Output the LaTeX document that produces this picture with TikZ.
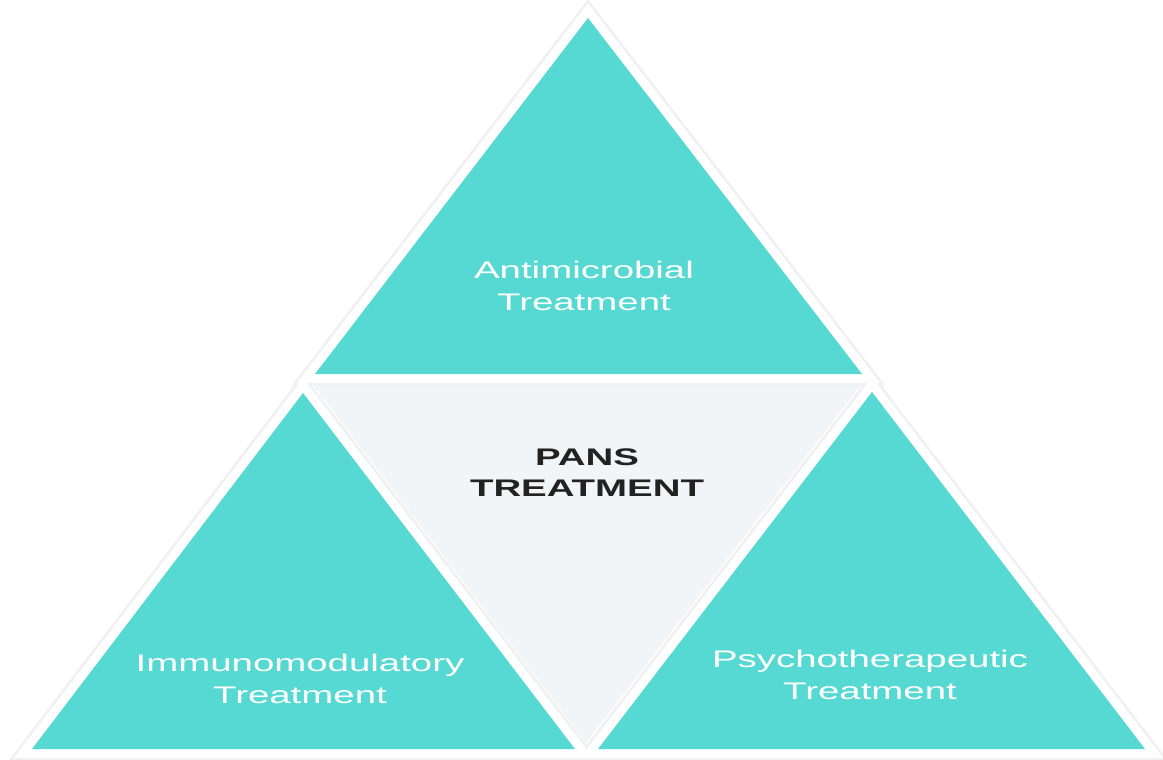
\documentclass[tikz,border=0pt]{standalone}
\usepackage{fontspec}
\newfontfamily\wf[FakeStretch=1.6]{Liberation Sans}
\definecolor{tealfill}{RGB}{86,217,210}
\definecolor{centerfill}{RGB}{242,245,247}
\definecolor{darktext}{RGB}{34,34,34}
\begin{document}
\begin{tikzpicture}[x=1pt,y=-1pt,
  shadowline/.style={draw=black!6,line width=23pt,line join=miter},
  whiteline/.style={draw=white,line width=18pt,line join=miter},
  tealtri/.style={fill=tealfill},
  centertri/.style={fill=centerfill},
  lbl/.style={text=white,align=center,inner sep=0pt,font=\wf\fontsize{24}{32}\selectfont},
  clbl/.style={text=darktext,align=center,inner sep=0pt,font=\wf\bfseries\fontsize{24}{31}\selectfont}]
\useasboundingbox[fill=white] (0,0) rectangle (1163,760);
% corners
\coordinate (t1) at (588,18);
\coordinate (t2) at (315,374);
\coordinate (t3) at (862,374);
\coordinate (l1) at (303,393);
\coordinate (l2) at (32,749);
\coordinate (l3) at (575,749);
\coordinate (r1) at (872,392);
\coordinate (r2) at (598,749);
\coordinate (r3) at (1145,749);
\coordinate (c1) at (313,385);
\coordinate (c2) at (861,385);
\coordinate (c3) at (586,743);
\coordinate (g1) at (18,757.5);
\coordinate (g2) at (1163,757.5);
% ground line
\draw[black!20,line width=3pt] (g1) -- (g2);
% shadows
\foreach \a/\b/\c in {t1/t2/t3,l1/l2/l3,r1/r2/r3}
  \path[shadowline] (\a) -- (\b) -- (\c) -- cycle;
\foreach \a/\b/\c in {t1/t2/t3,l1/l2/l3,r1/r2/r3}
  \path[whiteline] (\a) -- (\b) -- (\c) -- cycle;
% triangles
\path[tealtri] (t1) -- (t2) -- (t3) -- cycle;
\path[tealtri] (l1) -- (l2) -- (l3) -- cycle;
\path[tealtri] (r1) -- (r2) -- (r3) -- cycle;
\path[centertri] (c1) -- (c2) -- (c3) -- cycle;
% labels
\node[lbl] (anti) at (584,286) {Antimicrobial\\Treatment};
\node[lbl] (immu) at (300,679) {Immunomodulatory\\Treatment};
\node[lbl] (psych) at (870,675) {Psychotherapeutic\\Treatment};
\node[clbl] (pans) at (587,473) {PANS\\TREATMENT};
\end{tikzpicture}
\end{document}
